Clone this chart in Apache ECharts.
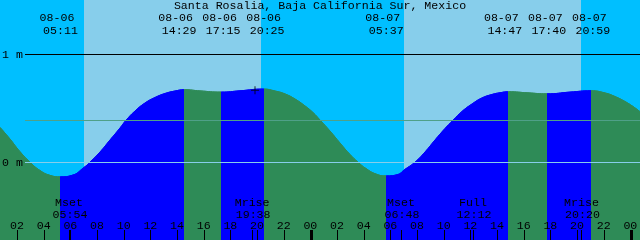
<!DOCTYPE html>
<html><head><meta charset="utf-8">
<script src="https://cdn.jsdelivr.net/npm/echarts@6/dist/echarts.min.js"></script>
<style>html,body{margin:0;padding:0;background:#00BFFF}#c{width:640px;height:240px}</style>
</head><body><div id="c"></div>
<script>
// ---------------- data ----------------
const title = 'Santa Rosalia, Baja California Sur, Mexico';
// tide curve samples: hours since 08-06 00:00 and water level in metres
const curveHours = [0.65,1.40,2.15,2.90,3.65,4.40,5.183,6.05,6.95,7.40,8.15,8.90,9.65,10.10,10.775,11.525,12.275,13.025,13.775,14.483,15.65,17.25,18.65,20.417,21.275,22.025,22.775,23.525,24.125,24.65,25.40,26.15,26.90,27.50,28.10,28.85,29.617,30.50,30.95,31.775,32.525,33.275,34.025,34.625,35.30,36.05,36.80,37.55,38.15,38.783,40.25,41.667,43.40,44.983,46.025,46.775,47.525,48.125,48.65];
const curveHeights = [0.322,0.214,0.097,0.000,-0.077,-0.122,-0.136,-0.122,-0.049,0.000,0.094,0.205,0.316,0.387,0.473,0.547,0.598,0.635,0.658,0.670,0.659,0.648,0.660,0.676,0.658,0.631,0.584,0.520,0.459,0.390,0.288,0.177,0.071,0.000,-0.059,-0.110,-0.127,-0.114,-0.073,0.000,0.094,0.205,0.311,0.387,0.469,0.538,0.594,0.626,0.642,0.651,0.641,0.632,0.648,0.660,0.640,0.607,0.561,0.515,0.467];
const tideDates = ['08-06','08-06','08-06','08-06','08-07','08-07','08-07','08-07'];
const tideTimes = ['05:11','14:29','17:15','20:25','05:37','14:47','17:40','20:59'];
const tideHeights = [-0.136,0.670,0.648,0.676,-0.127,0.651,0.632,0.660];
const moonNames = ['Mset','Mrise','Mset','Full','Mrise'];
const moonDates = ['08-06','08-06','08-07','08-07','08-07'];
const moonTimes = ['05:54','19:38','06:48','12:12','20:20'];
const sunriseHours = [6.95, 30.95];
const sunsetHours = [20.225, 44.22];
const tickHours = [2,4,6,8,10,12,14,16,18,20,22,24,26,28,30,32,34,36,38,40,42,44,46,48];
const levelMarks = [1, 0];
const levelNames = ['1 m', '0 m'];
const meanLevel = 0.388;
const nowHour = 19.775, nowHeight = 0.665;

// ---------------- styles ----------------
const XMIN = 0.65, XMAX = 48.65, YMIN = -0.72, YMAX = 1.5;
const FLOOD = '#0000FF', EBB = '#2E8B57', DAY = '#87CEEB', NIGHT = '#00BFFF';
const FONT = "11.6px 'Liberation Mono'";
const LINE_X0 = 25;

function toHours(d, s) {
  const day = +d.split('-')[1];
  const p = s.split(':').map(Number);
  return (day - 6) * 24 + p[0] + p[1] / 60;
}
const tideHours = tideTimes.map((s, i) => toHours(tideDates[i], s));
const moonHours = moonTimes.map((s, i) => toHours(moonDates[i], s));
const isHigh = tideHeights.map((v, i) => i > 0 ? v > tideHeights[i - 1] : v > tideHeights[i + 1]);

const pieces = [];
tideHours.forEach((h, i) => {
  const p = { lt: h, color: isHigh[i] ? FLOOD : EBB };
  if (i > 0) p.gte = tideHours[i - 1];
  pieces.push(p);
});
pieces.push({ gte: tideHours[tideHours.length - 1], color: isHigh[isHigh.length - 1] ? EBB : FLOOD });

const chart = echarts.init(document.getElementById('c'), null, { renderer: 'canvas' });

const option = {
  animation: false,
  backgroundColor: NIGHT,
  grid: { left: 0, right: 0, top: 0, bottom: 0, containLabel: false },
  xAxis: { type: 'value', min: XMIN, max: XMAX, show: false },
  yAxis: { type: 'value', min: YMIN, max: YMAX, show: false },
  visualMap: { show: false, type: 'piecewise', dimension: 0, seriesIndex: 1, pieces: pieces },
  series: [
    {
      type: 'custom', z: 1, silent: true,
      data: sunriseHours.map((s, i) => [s, sunsetHours[i]]),
      encode: { x: [0, 1] },
      renderItem: function (params, api) {
        const a = api.coord([api.value(0), YMAX]);
        const b = api.coord([api.value(1), YMIN]);
        return { type: 'rect', shape: { x: Math.round(a[0]), y: a[1], width: Math.round(b[0]) - Math.round(a[0]), height: b[1] - a[1] }, style: { fill: DAY } };
      }
    },
    {
      type: 'line', z: 2, silent: true, smooth: 0.5, showSymbol: false,
      data: curveHours.map((h, i) => [h, curveHeights[i]]),
      lineStyle: { width: 1 },
      areaStyle: { origin: 'start', opacity: 1 }
    },
    {
      type: 'custom', z: 3, silent: true,
      data: levelMarks.map((v, i) => [XMIN, v, i]).concat([[XMIN, meanLevel, 2]]),
      renderItem: function (params, api) {
        const y = Math.floor(api.coord([XMIN, api.value(1)])[1]);
        const kind = api.value(2);
        const col = kind === 0 ? '#000000' : (kind === 1 ? '#87CEEB' : '#4FA088');
        return { type: 'rect', shape: { x: LINE_X0, y: y, width: 640 - LINE_X0, height: 1 }, style: { fill: col } };
      }
    },
    {
      type: 'custom', z: 4, silent: true,
      data: tickHours.map(h => [h, h % 24 === 0 ? 3 : 1]).concat(moonHours.map(h => [h, 1])),
      renderItem: function (params, api) {
        const p = api.coord([api.value(0), YMIN]);
        const w = api.value(1);
        return { type: 'rect', shape: { x: Math.round(p[0]) - 1, y: p[1] - 10, width: w, height: 10 }, style: { fill: '#000' } };
      }
    },
    {
      type: 'scatter', z: 5, silent: true,
      data: [[nowHour, nowHeight]],
      symbol: 'path://M3.5,0h1v8h-1zM0,3.5h8v1h-8z', symbolSize: 8,
      itemStyle: { color: '#000' }
    }
  ]
};
chart.setOption(option);

// ---------------- text ----------------
function px(h, v) { return chart.convertToPixel({ gridIndex: 0 }, [h, v]); }
const texts = [];
function addText(str, x, y, align) {
  texts.push({ type: 'text', z: 10, silent: true, style: { text: str, x: x, y: y, font: FONT, fill: '#000', align: align || 'center', verticalAlign: 'middle' } });
}
addText(title, 320, 5.8);

// spread tide labels so they do not overlap (keep cluster centroid)
const SPACING = 44;
const raw = tideHours.map(h => px(h, 0)[0]);
let groups = raw.map(x => ({ sum: x, n: 1 }));
let changed = true;
function pos(g, k) { return g.sum / g.n + (k - (g.n - 1) / 2) * SPACING; }
while (changed) {
  changed = false;
  for (let i = 0; i < groups.length - 1; i++) {
    const a = groups[i], b = groups[i + 1];
    if (pos(a, a.n - 1) + SPACING > pos(b, 0)) {
      groups.splice(i, 2, { sum: a.sum + b.sum, n: a.n + b.n });
      changed = true; break;
    }
  }
}
const labelX = [];
groups.forEach(g => { for (let k = 0; k < g.n; k++) labelX.push(pos(g, k)); });
labelX.forEach((x, i) => {
  addText(tideDates[i], x - 3.5, 17.8);
  addText(tideTimes[i], x, 30.8);
});

moonHours.forEach((h, i) => {
  const x = px(h, 0)[0];
  addText(moonNames[i], x - 1, 202.8);
  addText(moonTimes[i], x, 214.5);
});

tickHours.forEach(h => {
  const x = px(h, 0)[0];
  const v = h % 24;
  addText((v < 10 ? '0' : '') + v, x - 1, 226.1);
});

levelMarks.forEach((v, i) => {
  const y = px(XMIN, v)[1];
  addText(levelNames[i], 2, y + 1, 'left');
});

chart.setOption({ graphic: { elements: texts } });
</script>
</body></html>
